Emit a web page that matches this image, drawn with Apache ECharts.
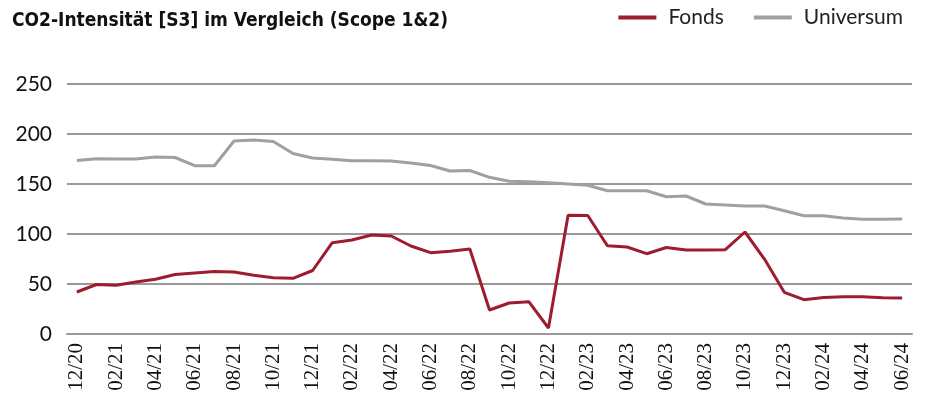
<!DOCTYPE html>
<html>
<head>
<meta charset="utf-8">
<script src="https://cdn.jsdelivr.net/npm/echarts@6/dist/echarts.min.js"></script>
<style>
  html, body { margin: 0; padding: 0; background: #fff; }
  #chart { width: 930px; height: 406px; }
</style>
</head>
<body>
<div id="chart"></div>
<script>
// monthly categories 12/20 .. 06/24
const months = [
  '12/20', '01/21', '02/21', '03/21', '04/21', '05/21', '06/21', '07/21', '08/21', '09/21', '10/21', '11/21',
  '12/21', '01/22', '02/22', '03/22', '04/22', '05/22', '06/22', '07/22', '08/22', '09/22', '10/22', '11/22',
  '12/22', '01/23', '02/23', '03/23', '04/23', '05/23', '06/23', '07/23', '08/23', '09/23', '10/23', '11/23',
  '12/23', '01/24', '02/24', '03/24', '04/24', '05/24', '06/24'
];

const fonds = [
  42, 49.5, 48.7, 52, 54.7, 59.5, 61, 62.5, 62, 58.7, 56.3, 55.7,
  63.5, 91.3, 94, 99, 98, 88, 81.3, 82.7, 85, 24, 31, 32.3,
  6, 118.7, 118.5, 88.3, 87, 80.3, 86.5, 84, 84, 84.3, 102, 74.7,
  41.7, 34.3, 36.5, 37.2, 37.3, 36.2, 36
];

const universum = [
  173.5, 175.3, 175, 175, 177, 176.5, 168.3, 168.3, 193, 194, 192.5, 180.5,
  176, 174.7, 173.3, 173.3, 173, 171, 168.5, 163, 163.5, 156.7, 152.7, 152.3,
  151.3, 150, 148.7, 143.3, 143.3, 143.2, 137.3, 138, 130, 129, 128, 128,
  123.3, 118.3, 118.3, 116, 114.7, 114.7, 115
];

const yTicks = { min: 0, max: 250, interval: 50 };

const chart = echarts.init(document.getElementById('chart'));
chart.setOption({
  animation: false,
  backgroundColor: '#fff',
  title: {
    text: 'CO2-Intensität [S3] im Vergleich (Scope 1&2)',
    left: 12,
    top: 12,
    padding: 0,
    textStyle: {
      fontFamily: '"DejaVu Sans Condensed", "Liberation Sans Narrow", sans-serif',
      fontWeight: 'bold',
      fontSize: 19,
      color: '#111'
    }
  },
  legend: {
    right: 22,
    top: 2,
    itemWidth: 38,
    itemHeight: 4,
    itemGap: 30,
    icon: 'rect',
    textStyle: {
      fontFamily: 'Lato, "Open Sans", sans-serif',
      fontSize: 21,
      color: '#222',
      padding: [0, 0, 0, 7]
    },
    data: ['Fonds', 'Universum']
  },
  grid: {
    left: 67,
    right: 18,
    top: 84,
    bottom: 72
  },
  xAxis: {
    type: 'category',
    data: months,
    boundaryGap: true,
    axisLine: { show: true, lineStyle: { color: '#999', width: 2 } },
    axisTick: { show: false },
    axisLabel: {
      interval: 1,
      rotate: 90,
      margin: 9,
      fontFamily: '"Liberation Serif", serif',
      fontSize: 21,
      color: '#111'
    }
  },
  yAxis: {
    type: 'value',
    min: yTicks.min,
    max: yTicks.max,
    interval: yTicks.interval,
    axisLine: { show: false },
    axisTick: { show: false },
    splitLine: { lineStyle: { color: '#999', width: 2 } },
    axisLabel: {
      margin: 15,
      fontFamily: 'Lato, "Open Sans", sans-serif',
      fontSize: 21,
      color: '#111'
    }
  },
  series: [
    {
      name: 'Fonds',
      type: 'line',
      data: fonds,
      symbol: 'none',
      color: '#9d1c2e',
      lineStyle: { width: 3, color: '#9d1c2e' },
      z: 3
    },
    {
      name: 'Universum',
      type: 'line',
      data: universum,
      symbol: 'none',
      color: '#a0a0a0',
      lineStyle: { width: 3, color: '#a0a0a0' },
      z: 2
    }
  ]
});
window.onresize = chart.resize;
</script>
</body>
</html>
